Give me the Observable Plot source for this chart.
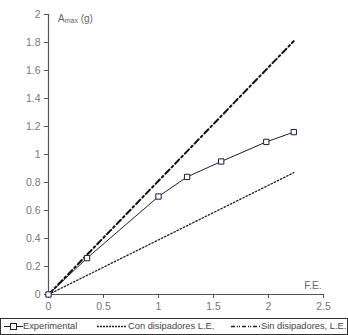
<!DOCTYPE html>
<html>
<head>
<meta charset="utf-8">
<script src="https://cdn.jsdelivr.net/npm/d3@7"></script>
<script src="https://cdn.jsdelivr.net/npm/@observablehq/plot@0.6"></script>
<style>
body { margin: 0; background: #fff; font-family: "Liberation Sans", Arial, sans-serif; }
#chart { width: 348px; height: 316px; }
#legend { position: absolute; left: 0; top: 318px; width: 346px; height: 15px; border: 1px solid #333; font-size: 9.3px; color: #444; white-space: nowrap; overflow: hidden; }
#legend span.item { position: absolute; top: 1.5px; }
#legend svg { position: absolute; top: 0; }
</style>
</head>
<body>
<div id="chart"></div>
<div id="legend"></div>
<script>
const expFE = [0, 0.35, 1.0, 1.26, 1.57, 1.98, 2.23];
const expA  = [0, 0.26, 0.70, 0.84, 0.95, 1.09, 1.16];
const sinFE = [0, 2.23];
const sinA  = [0, 1.81];
const conFE = [0, 2.23];
const conA  = [0, 0.87];
const xTicks = [0, 0.5, 1, 1.5, 2, 2.5];
const yTicks = [0, 0.2, 0.4, 0.6, 0.8, 1, 1.2, 1.4, 1.6, 1.8, 2];

const exp = expFE.map((x, i) => ({x, y: expA[i]}));
const sin = sinFE.map((x, i) => ({x, y: sinA[i]}));
const con = conFE.map((x, i) => ({x, y: conA[i]}));

const axisColor = "#555";
const plot = Plot.plot({
  width: 348, height: 316,
  marginLeft: 48, marginRight: 25, marginTop: 14, marginBottom: 22,
  style: {fontFamily: "Liberation Sans, Arial, sans-serif", fontSize: "10.5px", color: "#777", background: "#fff"},
  x: {domain: [0, 2.5], ticks: xTicks, tickFormat: d => String(d), label: null},
  y: {domain: [0, 2], ticks: yTicks, tickFormat: d => String(d), label: null},
  marks: [
    Plot.axisX({ticks: xTicks, tickSize: 4, tickPadding: 4, stroke: axisColor, tickFormat: d => String(d)}),
    Plot.axisY({ticks: yTicks, tickSize: 4, tickPadding: 4, stroke: axisColor, tickFormat: d => String(d)}),
    Plot.ruleX([0], {stroke: axisColor, strokeWidth: 1.2}),
    Plot.ruleY([0], {stroke: axisColor, strokeWidth: 1.2}),
    Plot.line(sin, {x: "x", y: "y", stroke: "#111", strokeWidth: 2, strokeDasharray: "6,3,2,3"}),
    Plot.line(con, {x: "x", y: "y", stroke: "#222", strokeWidth: 1.3, strokeDasharray: "1.5,2"}),
    Plot.line(exp, {x: "x", y: "y", stroke: "#1a1a40", strokeWidth: 1}),
    Plot.dot(exp, {x: "x", y: "y", symbol: "square", r: 3, stroke: "#1a1a40", fill: "white", strokeWidth: 1}),
    Plot.text(["F.E."], {frameAnchor: "bottom-right", dx: -2, dy: -6, fill: "#666", fontSize: 10}),
  ]
});
// y-axis label with subscript
const svg = d3.select(plot);
const t = svg.append("text").attr("x", 58).attr("y", 22).attr("text-anchor", "start").attr("fill", "#666").attr("font-size", 10);
t.append("tspan").text("A");
t.append("tspan").attr("font-size", 7).attr("dy", 1).text("máx");
t.append("tspan").attr("dy", -1).text(" (g)");
document.getElementById("chart").appendChild(plot);

// legend
const legend = document.getElementById("legend");
const items = [
  {label: "Experimental", x0: 3, lx: 22, dash: null, sw: 1, sq: true},
  {label: "Con disipadores L.E.", x0: 96, lx: 127, dash: "2,1", sw: 1.4, sq: false},
  {label: "Sin disipadores, L.E.", x0: 230, lx: 260, dash: "4,2,1,1,1,2", sw: 1.4, sq: false}
];
items.forEach(it => {
  const s = d3.create("svg").attr("width", 30).attr("height", 15).style("left", it.x0 + "px");
  const ln = s.append("line").attr("x1", 0).attr("x2", it.sq ? 19 : 30).attr("y1", 7.5).attr("y2", 7.5)
    .attr("stroke", "#222").attr("stroke-width", it.sw);
  if (it.dash) ln.attr("stroke-dasharray", it.dash);
  if (it.sq) s.append("rect").attr("x", 6.5).attr("y", 4.5).attr("width", 6).attr("height", 6)
    .attr("fill", "white").attr("stroke", "#1a1a40");
  legend.appendChild(s.node());
  const sp = document.createElement("span");
  sp.className = "item"; sp.style.left = it.lx + "px"; sp.textContent = it.label;
  legend.appendChild(sp);
});
</script>
</body>
</html>
